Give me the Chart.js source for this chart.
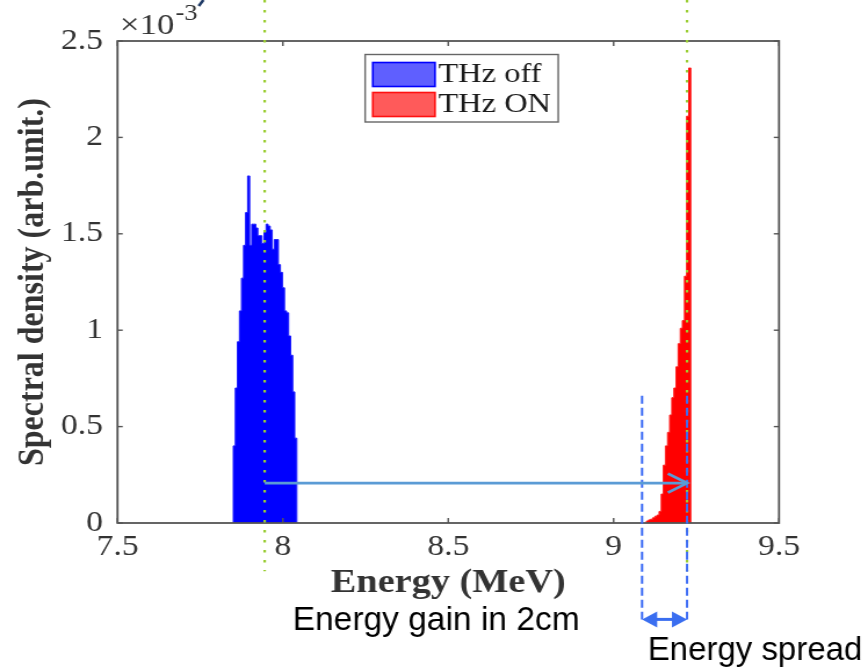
<!DOCTYPE html>
<html>
<head>
<meta charset="utf-8">
<script src="https://cdn.jsdelivr.net/npm/chart.js@4/dist/chart.umd.min.js"></script>
<style>
html,body{margin:0;padding:0;background:#fff;overflow:hidden}
#c{display:block}
</style>
</head>
<body>
<canvas id="c" width="748" height="669" style="width:868px;height:669px"></canvas>
<script>
// ---- data (spectral density in units of 1e-3, energy in MeV) ----
const blueEnergy = [7.8500, 7.8562, 7.8624, 7.8686, 7.8748, 7.8810, 7.8872, 7.8934, 7.8996, 7.9058,
                    7.9120, 7.9182, 7.9244, 7.9306, 7.9368, 7.9430, 7.9492, 7.9554, 7.9616, 7.9678,
                    7.9740, 7.9802, 7.9864, 7.9926, 7.9988, 8.0050, 8.0112, 8.0174, 8.0236, 8.0298, 8.0360];
const blueEnd = 8.0422;
const blueValues = [0.40, 0.70, 0.94, 1.10, 1.27, 1.44, 1.61, 1.80, 1.44, 1.55,
                    1.55, 1.53, 1.49, 1.49, 1.45, 1.51, 1.55, 1.54, 1.52, 1.42,
                    1.47, 1.47, 1.34, 1.30, 1.22, 1.10, 1.09, 0.97, 0.87, 0.68, 0.44];
const redEnergy = [9.0990, 9.1054, 9.1118, 9.1182, 9.1246, 9.1310, 9.1374, 9.1438, 9.1502, 9.1566,
                   9.1630, 9.1694, 9.1758, 9.1822, 9.1886, 9.1950, 9.2014, 9.2078, 9.2142, 9.2206, 9.2270];
const redEnd = 9.2334;
const redValues = [0.010, 0.016, 0.020, 0.027, 0.035, 0.041, 0.060, 0.150, 0.300, 0.400,
                   0.470, 0.560, 0.650, 0.700, 0.810, 0.930, 1.010, 1.050, 1.280, 2.110, 2.360];
const seriesLabels = ['THz off', 'THz ON'];
const xTicks = [7.5, 8, 8.5, 9, 9.5];
const xTickLabels = ['7.5', '8', '8.5', '9', '9.5'];
const yTicks = [0, 0.5, 1, 1.5, 2, 2.5];
const yTickLabels = ['0', '0.5', '1', '1.5', '2', '2.5'];
const markerEnergies = [7.945, 9.222];      // green dotted reference lines
const gainArrow = [7.945, 9.222];           // energy gain arrow (from, to)
const gainArrowLevel = [0.207];
const spreadBounds = [9.086, 9.222];        // energy spread markers
const spreadTop = [0.66];
const texts = ['Energy gain in 2cm', 'Energy spread'];

function steps(edges, end, vals) {
  const d = [{x: edges[0], y: 0}];
  edges.forEach((e, i) => d.push({x: e, y: vals[i]}));
  d.push({x: end, y: 0});
  return d;
}

const SERIF = '"Liberation Serif","Times New Roman",serif';
const SANS = '"Liberation Sans",Arial,sans-serif';
const STRETCH = 868 / 748;

const annot = {
  id: 'annot',
  afterDraw(chart) {
    const {ctx, chartArea: a, scales: {x, y}} = chart;
    const line = (x1, y1, x2, y2) => { ctx.beginPath(); ctx.moveTo(x1, y1); ctx.lineTo(x2, y2); ctx.stroke(); };
    ctx.save();
    // axes box
    ctx.strokeStyle = '#555';
    ctx.lineWidth = 1.8;
    ctx.strokeRect(a.left, a.top, a.right - a.left, a.bottom - a.top);
    // inward ticks
    ctx.lineWidth = 1.4;
    xTicks.forEach(v => {
      const px = x.getPixelForValue(v);
      line(px, a.bottom, px, a.bottom - 5);
      line(px, a.top, px, a.top + 5);
    });
    yTicks.forEach(v => {
      const py = y.getPixelForValue(v);
      line(a.left, py, a.left + 4.5, py);
      line(a.right, py, a.right - 4.5, py);
    });
    // exponent label
    ctx.fillStyle = '#333';
    ctx.textBaseline = 'alphabetic';
    ctx.textAlign = 'left';
    ctx.font = '30px ' + SERIF;
    ctx.fillText('\u00d710', a.left + 2, a.top - 7);
    const w10 = ctx.measureText('\u00d710').width;
    ctx.font = '23px ' + SERIF;
    ctx.fillText('-3', a.left + 2 + w10 + 1, a.top - 21);
    // tiny cropped mark from source figure
    ctx.strokeStyle = '#1f3a66';
    ctx.lineWidth = 2.5;
    line(a.left + 74, 0, a.left + 70, 6);

    // green dotted reference lines
    ctx.strokeStyle = '#9acd32';
    ctx.lineWidth = 2.2;
    ctx.setLineDash([2.5, 7.5]);
    markerEnergies.forEach(e => {
      const px = x.getPixelForValue(e);
      line(px, 0, px, y.getPixelForValue(-0.25));
    });
    // blue dashed spread lines
    ctx.strokeStyle = '#3d6cf5';
    ctx.lineWidth = 2;
    ctx.setLineDash([8, 4]);
    spreadBounds.forEach(e => {
      const px = x.getPixelForValue(e);
      line(px, y.getPixelForValue(spreadTop[0]), px, y.getPixelForValue(-0.50));
    });
    ctx.setLineDash([]);
    // gain arrow
    const gy = y.getPixelForValue(gainArrowLevel[0]);
    const gx1 = x.getPixelForValue(gainArrow[0]);
    const gx2 = x.getPixelForValue(gainArrow[1]);
    ctx.strokeStyle = '#5b9bd5';
    ctx.lineWidth = 2.8;
    line(gx1, gy, gx2, gy);
    ctx.beginPath();
    ctx.moveTo(gx2 - 16.5, gy - 9.5);
    ctx.lineTo(gx2, gy);
    ctx.lineTo(gx2 - 16.5, gy + 9.5);
    ctx.stroke();
    // spread double arrow
    const sy = y.getPixelForValue(-0.50);
    const sx1 = x.getPixelForValue(spreadBounds[0]);
    const sx2 = x.getPixelForValue(spreadBounds[1]);
    ctx.strokeStyle = '#3a6ef0';
    ctx.fillStyle = '#3a6ef0';
    ctx.lineWidth = 3;
    line(sx1 + 8, sy, sx2 - 8, sy);
    ctx.beginPath();
    ctx.moveTo(sx1, sy); ctx.lineTo(sx1 + 13, sy - 8); ctx.lineTo(sx1 + 13, sy + 8); ctx.closePath(); ctx.fill();
    ctx.beginPath();
    ctx.moveTo(sx2, sy); ctx.lineTo(sx2 - 13, sy - 8); ctx.lineTo(sx2 - 13, sy + 8); ctx.closePath(); ctx.fill();
    // annotation texts (not stretched in source)
    ctx.fillStyle = '#000';
    const plainText = (t, px, py, size) => {
      ctx.save();
      ctx.translate(px, py);
      ctx.scale(1 / STRETCH, 1);
      ctx.font = size + 'px ' + SANS;
      ctx.fillText(t, 0, 0);
      ctx.restore();
    };
    plainText(texts[0], x.getPixelForValue(8.03), y.getPixelForValue(-0.555), 33.5);
    plainText(texts[1], x.getPixelForValue(9.103), y.getPixelForValue(-0.71), 33);

    // legend
    const L = a.left + 213.4, T = a.top + 13.5, W = 166.4, H = 67.5;
    ctx.fillStyle = '#fff';
    ctx.fillRect(L, T, W, H);
    ctx.strokeStyle = '#666';
    ctx.lineWidth = 1.4;
    ctx.strokeRect(L, T, W, H);
    const patch = [['#5f5fff', '#0000ff'], ['#ff5a5a', '#ff1010']];
    seriesLabels.forEach((lab, i) => {
      const py = T + 8 + i * 30;
      ctx.fillStyle = patch[i][0];
      ctx.fillRect(L + 6.6, py, 53.6, 24);
      ctx.strokeStyle = patch[i][1];
      ctx.lineWidth = 1.6;
      ctx.strokeRect(L + 6.6, py, 53.6, 24);
      ctx.fillStyle = '#1a1a1a';
      ctx.font = '28px ' + SERIF;
      ctx.textBaseline = 'middle';
      ctx.fillText(lab, L + 63, py + 12.5);
      ctx.textBaseline = 'alphabetic';
    });
    ctx.restore();
  }
};

new Chart(document.getElementById('c'), {
  type: 'line',
  data: {
    datasets: [
      {label: seriesLabels[0], data: steps(blueEnergy, blueEnd, blueValues), stepped: 'before',
       fill: 'origin', backgroundColor: '#0000ff', borderColor: '#1a1aff', borderWidth: 1, pointRadius: 0},
      {label: seriesLabels[1], data: steps(redEnergy, redEnd, redValues), stepped: 'before',
       fill: 'origin', backgroundColor: '#ff0000', borderColor: '#ff1a1a', borderWidth: 1, pointRadius: 0}
    ]
  },
  options: {
    responsive: false,
    animation: false,
    devicePixelRatio: 1,
    layout: {autoPadding: false, padding: {left: 0, right: 76.7, top: 41, bottom: 0}},
    plugins: {legend: {display: false}, tooltip: {enabled: false}},
    scales: {
      x: {
        type: 'linear', min: 7.5, max: 9.5,
        afterBuildTicks: s => { s.ticks = xTicks.map(v => ({value: v})); },
        afterFit: s => { s.height = 146; },
        grid: {display: false, drawTicks: false},
        border: {display: false},
        ticks: {padding: 7, autoSkip: false, maxRotation: 0, color: '#333',
                font: {family: SERIF, size: 29},
                callback: v => xTickLabels[xTicks.indexOf(v)]},
        title: {display: true, text: 'Energy (MeV)', color: '#333',
                font: {family: SERIF, size: 33, weight: 'bold'}, padding: {top: 0, bottom: 66}}
      },
      y: {
        type: 'linear', min: 0, max: 2.5,
        afterBuildTicks: s => { s.ticks = yTicks.map(v => ({value: v})); },
        afterFit: s => { s.width = 101.25; },
        grid: {display: false, drawTicks: false},
        border: {display: false},
        ticks: {padding: 12.5, autoSkip: false, color: '#333',
                font: {family: SERIF, size: 29},
                callback: v => yTickLabels[yTicks.indexOf(v)]},
        title: {display: true, text: 'Spectral density (arb.unit.)', color: '#333',
                font: {family: SERIF, size: 32, weight: 'bold'}, padding: {top: 10, bottom: 0}}
      }
    }
  },
  plugins: [annot]
});
</script>
</body>
</html>
